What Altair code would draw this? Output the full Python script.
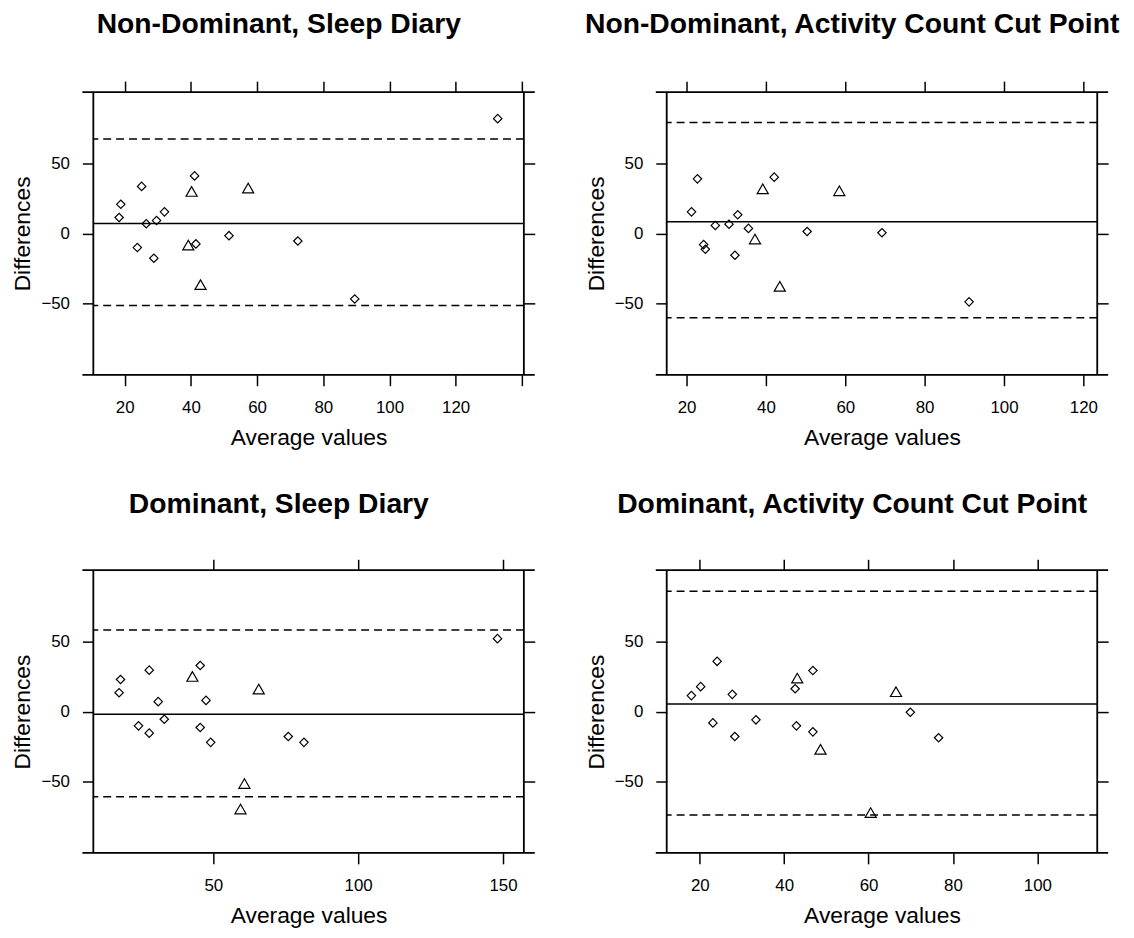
import altair as alt
import pandas as pd

# ---------------- data ----------------
titles = ["Non-Dominant, Sleep Diary", "Non-Dominant, Activity Count Cut Point",
          "Dominant, Sleep Diary", "Dominant, Activity Count Cut Point"]

nd_sd_avg = [132.7, 18.8, 18.3, 25.1, 26.5, 29.6, 32.0, 23.8, 28.8, 41.1, 41.5, 51.5, 72.3, 89.5,
             40.2, 57.3, 39.2, 42.9]
nd_sd_diff = [82.0, 20.8, 11.4, 33.6, 6.9, 9.2, 15.4, -10.1, -17.7, 41.1, -7.5, -1.6, -5.4, -46.8,
              30.0, 32.4, -8.3, -36.6]
nd_sd_grp = ["D"] * 14 + ["T"] * 4
nd_sd_lines = [7.1, 67.4, -51.5]  # mean, upper, lower

nd_ac_avg = [22.75, 21.25, 42.1, 32.9, 27.25, 30.7, 35.6, 24.3, 24.75, 32.2, 50.4, 69.25, 91.2,
             39.2, 58.5, 37.25, 43.5]
nd_ac_diff = [39.0, 15.4, 40.2, 13.3, 5.7, 6.6, 3.6, -8.0, -11.3, -15.6, 1.4, 0.5, -48.9,
              31.9, 30.5, -4.0, -37.8]
nd_ac_grp = ["D"] * 13 + ["T"] * 4
nd_ac_lines = [8.3, 79.2, -60.3]

d_sd_avg = [148.1, 18.0, 17.5, 27.9, 45.5, 31.0, 47.5, 33.1, 24.2, 27.9, 45.5, 49.1, 75.9, 81.3,
            42.8, 65.7, 60.75, 59.4]
d_sd_diff = [52.1, 22.9, 13.5, 29.6, 32.9, 7.1, 8.0, -5.5, -10.2, -15.4, -11.4, -22.0, -17.8, -22.0,
             25.1, 16.1, -51.4, -69.6]
d_sd_grp = ["D"] * 14 + ["T"] * 4
d_sd_lines = [-1.9, 58.2, -60.9]

d_ac_avg = [18.0, 20.2, 24.1, 27.7, 23.1, 28.3, 33.3, 42.6, 46.8, 42.9, 46.8, 69.9, 76.6,
            43.1, 66.5, 48.6, 60.5]
d_ac_diff = [11.4, 17.8, 35.9, 12.3, -8.1, -17.8, -5.9, 16.3, 29.3, -10.2, -14.5, -0.5, -18.7,
             23.9, 14.2, -27.0, -72.2]
d_ac_grp = ["D"] * 13 + ["T"] * 4
d_ac_lines = [5.4, 85.9, -73.9]

x_domains = [[10.5, 140.6], [15.0, 123.5], [8.6, 157.2], [12.15, 114.2]]
x_ticks = [[20, 40, 60, 80, 100, 120, 140], [20, 40, 60, 80, 100, 120],
           [50, 100, 150], [20, 40, 60, 80, 100]]
x_hidden_label = [140, None, None, None]
y_ticks = [-50, 0, 50]
y_domain = [-101, 101]

W, H = 434, 285
FONT = "Liberation Sans"
LW = 1.8


def panel(title, avg, diff, grp, lines, xdom, xt, hidden, title_offset):
    df = pd.DataFrame({"avg": avg, "diff": diff, "grp": grp})
    mean_df = pd.DataFrame({"y": [lines[0]]})
    lim_df = pd.DataFrame({"y": lines[1:]})
    xs = alt.Scale(domain=xdom, nice=False, zero=False)
    ys = alt.Scale(domain=y_domain, nice=False, zero=False)

    common = dict(tickSize=11, tickWidth=1.5, tickColor="black", domain=False, grid=False)
    labels = dict(labelFont=FONT, labelFontSize=17, labelColor="black", labelOverlap=False,
                  labelFlush=False)
    if hidden is not None:
        lab_expr = f"datum.value == {hidden} ? '' : datum.label"
    else:
        lab_expr = "datum.label"
    bottom = alt.Axis(orient="bottom", values=xt, title="Average values", labelExpr=lab_expr,
                      labelPadding=14, titleFont=FONT, titleFontSize=23, titleFontWeight="normal",
                      titleColor="black", titleY=70, titleBaseline="alphabetic", **common, **labels)
    left = alt.Axis(orient="left", values=y_ticks, title="Differences", labelPadding=13,
                    titleFont=FONT, titleFontSize=23, titleFontWeight="normal", titleColor="black",
                    titleX=-64, titleY=H / 2, titleBaseline="alphabetic", titleAngle=-90,
                    **common, **labels)
    top = alt.Axis(orient="top", values=xt, title=None, labels=False, **common)
    right = alt.Axis(orient="right", values=y_ticks, title=None, labels=False, **common)

    mean_rule = alt.Chart(mean_df).mark_rule(color="black", strokeWidth=1.5).encode(
        y=alt.Y("y:Q", scale=ys, axis=None))
    lim_rule = alt.Chart(lim_df).mark_rule(color="black", strokeWidth=1.5, strokeDash=[8, 5]).encode(
        y=alt.Y("y:Q", scale=ys, axis=None))
    one = pd.DataFrame({"a": [0]})
    frame_top = alt.Chart(one).mark_rule(color="black", strokeWidth=LW).encode(
        x=alt.value(-11), x2=alt.value(W + 11), y=alt.value(0))
    frame_bot = alt.Chart(one).mark_rule(color="black", strokeWidth=LW).encode(
        x=alt.value(-11), x2=alt.value(W + 11), y=alt.value(H))
    frame_l = alt.Chart(one).mark_rule(color="black", strokeWidth=LW).encode(
        x=alt.value(0), y=alt.value(0), y2=alt.value(H))
    frame_r = alt.Chart(one).mark_rule(color="black", strokeWidth=LW).encode(
        x=alt.value(W), y=alt.value(0), y2=alt.value(H))

    pts = alt.Chart(df).mark_point(filled=False, color="black", strokeWidth=1.2, opacity=1).encode(
        x=alt.X("avg:Q", scale=xs, axis=bottom),
        y=alt.Y("diff:Q", scale=ys, axis=left),
        shape=alt.Shape("grp:N", scale=alt.Scale(domain=["D", "T"], range=["diamond", "triangle-up"]),
                        legend=None),
        size=alt.Size("grp:N", scale=alt.Scale(domain=["D", "T"], range=[72, 125]), legend=None),
    )
    ghost = alt.Chart(df).mark_point(opacity=0).encode(
        x=alt.X("avg:Q", scale=xs, axis=top),
        y=alt.Y("diff:Q", scale=ys, axis=right),
    )
    return alt.layer(mean_rule, lim_rule, frame_top, frame_bot, frame_l, frame_r, pts, ghost).resolve_axis(
        x="independent", y="independent"
    ).resolve_scale(size="independent", shape="independent").properties(
        width=W, height=H,
        title=alt.TitleParams(text=title, font=FONT, fontSize=28.5, fontWeight="bold", color="black",
                              anchor="middle", frame="group", dx=-30, offset=title_offset,
                              baseline="alphabetic"),
    )


p1 = panel(titles[0], nd_sd_avg, nd_sd_diff, nd_sd_grp, nd_sd_lines, x_domains[0], x_ticks[0], x_hidden_label[0], 19.5)
p2 = panel(titles[1], nd_ac_avg, nd_ac_diff, nd_ac_grp, nd_ac_lines, x_domains[1], x_ticks[1], x_hidden_label[1], 19.5)
p3 = panel(titles[2], d_sd_avg, d_sd_diff, d_sd_grp, d_sd_lines, x_domains[2], x_ticks[2], x_hidden_label[2], 17)
p4 = panel(titles[3], d_ac_avg, d_ac_diff, d_ac_grp, d_ac_lines, x_domains[3], x_ticks[3], x_hidden_label[3], 17)

chart = alt.concat(p1, p2, p3, p4, columns=2, spacing={"row": 197, "column": 144},
                   bounds="flush").properties(
    padding={"left": 3, "top": -3, "right": 5, "bottom": 5}
).configure_view(stroke=None).configure(background="white")

chart.save("out.html", embed_options={"renderer": "svg", "actions": False})
